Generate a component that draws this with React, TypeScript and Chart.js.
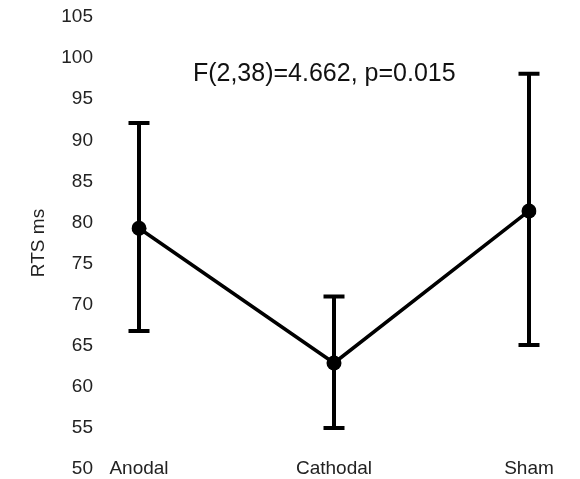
import React, { useEffect, useRef } from "react";
import { Chart, registerables } from "chart.js";

Chart.register(...registerables);

const categories = ["Anodal", "Cathodal", "Sham"];
const means = [79.3, 62.9, 81.4];
const upperErr = [92.1, 71.0, 98.1];
const lowerErr = [66.8, 55.0, 65.1];
const yMin = 50;
const yMax = 105;
const yStep = 5;
const yTitle = "RTS ms";
const statText = "F(2,38)=4.662, p=0.015";
const statAnchorX = 0.95;
const statAnchorY = 98.0;

const FONT = "'Liberation Sans', Arial, Helvetica, sans-serif";

const errorBarPlugin = {
  id: "errorBars",
  beforeDatasetsDraw(chart: any) {
    const { ctx, scales } = chart;
    const xs = scales.x;
    const ys = scales.y;
    ctx.save();
    ctx.strokeStyle = "#000";
    ctx.lineWidth = 4;
    ctx.lineCap = "butt";
    const cap = 10.5;
    categories.forEach((_, i) => {
      const x = xs.getPixelForValue(i);
      const yt = ys.getPixelForValue(upperErr[i]);
      const yb = ys.getPixelForValue(lowerErr[i]);
      ctx.beginPath();
      ctx.moveTo(x, yt);
      ctx.lineTo(x, yb);
      ctx.moveTo(x - cap, yt);
      ctx.lineTo(x + cap, yt);
      ctx.moveTo(x - cap, yb);
      ctx.lineTo(x + cap, yb);
      ctx.stroke();
    });
    ctx.restore();
  },
  afterDatasetsDraw(chart: any) {
    const { ctx, scales } = chart;
    ctx.save();
    ctx.fillStyle = "#111";
    ctx.font = `25px ${FONT}`;
    ctx.textAlign = "center";
    ctx.textBaseline = "middle";
    ctx.fillText(
      statText,
      scales.x.getPixelForValue(statAnchorX),
      scales.y.getPixelForValue(statAnchorY)
    );
    // category labels on the baseline of the y minimum
    ctx.fillStyle = "#222";
    ctx.font = `19px ${FONT}`;
    const yb = scales.y.getPixelForValue(yMin);
    categories.forEach((c, i) => {
      ctx.fillText(c, scales.x.getPixelForValue(i), yb);
    });
    ctx.restore();
  },
};

export default function App() {
  const ref = useRef<HTMLCanvasElement | null>(null);
  useEffect(() => {
    if (!ref.current) return;
    const chart = new Chart(ref.current, {
      type: "line",
      data: {
        labels: categories,
        datasets: [
          {
            data: means,
            borderColor: "#000",
            backgroundColor: "#000",
            borderWidth: 3.5,
            pointRadius: 7.5,
            pointBackgroundColor: "#000",
            pointBorderWidth: 0,
            tension: 0,
          },
        ],
      },
      options: {
        animation: false,
        responsive: true,
        maintainAspectRatio: false,
        layout: { padding: { left: 27, right: 51, top: 17, bottom: 10 } },
        plugins: {
          legend: { display: false },
          tooltip: { enabled: false },
        },
        scales: {
          x: {
            type: "category",
            offset: false,
            display: false,
          },
          y: {
            min: yMin,
            max: yMax,
            grid: { display: false, drawTicks: false },
            border: { display: false },
            ticks: {
              stepSize: yStep,
              color: "#222",
              font: { family: FONT, size: 19 },
              padding: 46,
            },
            title: {
              display: true,
              text: yTitle,
              color: "#222",
              font: { family: FONT, size: 19 },
              padding: { top: 0, bottom: 0 },
            },
            afterFit: (s: any) => {
              s.width = 112;
              s.paddingTop = 0;
              s.paddingBottom = 0;
            },
          },
        },
      },
      plugins: [errorBarPlugin],
    });
    return () => chart.destroy();
  }, []);
  return (
    <div style={{ position: "fixed", left: 0, top: 0, width: 580, height: 479, background: "#fff" }}>
      <canvas ref={ref} />
    </div>
  );
}
